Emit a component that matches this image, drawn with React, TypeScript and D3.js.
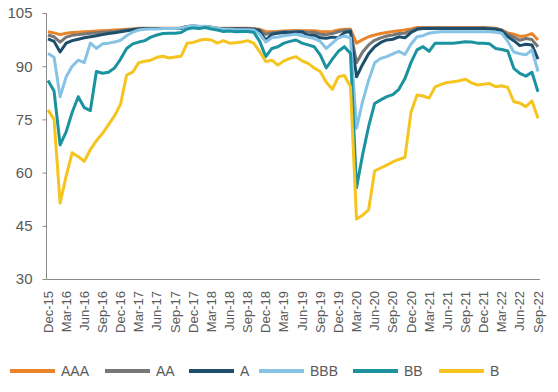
import * as d3 from "d3";
import React, { useEffect, useRef } from "react";

const width = 558;
const height = 392;

// monthly, Dec-15 .. Sep-22
const months = d3
  .timeMonth.range(new Date(2015, 11, 1), new Date(2022, 9, 1))
  .map(d3.timeFormat("%b-%y"));

const yTicks = [30, 45, 60, 75, 90, 105];

const aaa = [
  99.7, 99.4, 98.9, 99.3, 99.5, 99.6, 99.7, 99.8, 99.9, 100.0,
  100.1, 100.2, 100.3, 100.4, 100.5, 100.7, 100.7, 100.7, 100.7, 100.7,
  100.7, 100.7, 100.8, 101.2, 101.3, 101.2, 101.2, 101.0, 100.8, 100.7,
  100.7, 100.7, 100.7, 100.7, 100.6, 100.4, 99.8, 99.7, 99.8, 99.9,
  100.0, 100.0, 100.0, 100.0, 100.0, 99.8, 99.7, 99.8, 100.2, 100.4,
  100.4, 96.5, 97.5, 98.3, 98.8, 99.2, 99.5, 99.8, 100.0, 100.2,
  100.5, 100.9, 100.9, 100.9, 100.9, 100.9, 100.9, 100.9, 100.9, 100.9,
  100.9, 100.9, 100.9, 100.8, 100.7, 100.2, 99.4, 99.0, 98.4, 98.6,
  99.2, 97.4,
];

const aa = [
  98.8, 98.3, 96.8, 98.2, 98.7, 98.9, 99.1, 99.3, 99.4, 99.6,
  99.7, 99.8, 100.0, 100.2, 100.4, 100.5, 100.6, 100.6, 100.6, 100.6,
  100.6, 100.6, 100.7, 101.2, 101.3, 101.2, 101.2, 101.0, 100.7, 100.6,
  100.6, 100.6, 100.6, 100.6, 100.5, 100.2, 99.0, 99.4, 99.6, 99.8,
  99.8, 99.9, 99.8, 99.5, 99.6, 99.0, 98.9, 99.2, 99.7, 100.1,
  100.2, 91.0, 94.0, 96.0, 97.3, 98.0, 98.5, 98.8, 99.2, 99.3,
  100.0, 100.6, 100.8, 100.8, 100.8, 100.8, 100.8, 100.8, 100.8, 100.8,
  100.8, 100.8, 100.8, 100.7, 100.6, 100.2, 99.0, 98.2, 97.3, 97.8,
  97.5, 95.5,
];

const a = [
  97.7, 97.0, 94.0, 96.5, 97.2, 97.6, 98.0, 98.3, 98.6, 98.9,
  99.2, 99.4, 99.7, 100.0, 100.3, 100.5, 100.6, 100.6, 100.6, 100.6,
  100.6, 100.6, 100.7, 101.2, 101.3, 101.2, 101.2, 100.9, 100.6, 100.5,
  100.5, 100.5, 100.5, 100.5, 100.4, 100.0, 97.3, 99.0, 99.3, 99.5,
  99.4, 99.6, 99.7, 98.6, 98.8, 98.0, 97.9, 98.2, 98.0, 99.5,
  99.8, 87.0, 90.5, 93.5, 95.5, 96.7, 97.4, 97.6, 98.3, 98.0,
  99.5, 100.4, 100.6, 100.6, 100.6, 100.6, 100.6, 100.6, 100.6, 100.6,
  100.6, 100.6, 100.6, 100.5, 100.4, 100.0, 98.3, 97.2, 95.8, 96.2,
  96.0, 92.0,
];

const bbb = [
  93.6, 92.5, 81.4, 87.0, 90.0, 91.7, 91.0, 96.5, 95.0, 96.3,
  96.5, 96.8, 97.3, 98.6, 99.6, 100.2, 100.4, 100.5, 100.5, 100.6,
  100.6, 100.6, 100.8, 101.2, 101.4, 101.2, 101.3, 101.0, 100.7, 100.4,
  100.4, 100.3, 100.3, 100.3, 100.2, 99.0, 96.8, 98.0, 98.2, 98.6,
  98.8, 99.0, 98.6, 98.2, 97.8, 97.0, 95.0, 96.5, 98.0, 98.5,
  98.0, 72.5, 80.0, 86.0, 91.0, 92.2, 92.7, 93.5, 94.2, 93.3,
  96.2, 98.3, 98.6, 99.3, 99.6, 99.7, 99.7, 99.7, 99.7, 99.7,
  99.7, 99.7, 99.7, 99.7, 99.6, 99.3, 97.0, 94.0, 93.5, 93.2,
  94.6, 88.5,
];

const bb = [
  86.0, 83.0, 67.8, 71.5, 77.0, 81.4, 78.3, 77.5, 88.5, 88.0,
  88.3, 89.5, 92.0, 95.0, 96.3, 96.8, 97.2, 98.2, 98.8, 99.2,
  99.3, 99.3, 99.5, 100.5, 100.8, 100.6, 100.9, 100.5, 100.2, 99.8,
  99.9, 99.7, 99.8, 99.8, 99.6, 97.0, 92.7, 95.0, 95.5, 96.5,
  97.0, 97.4, 96.5, 96.0, 95.5, 93.2, 89.5, 92.0, 94.2, 95.5,
  93.6, 55.7, 65.0, 73.0, 79.5, 80.5, 81.4, 82.0, 83.5, 86.5,
  91.0, 94.6, 95.5, 94.2, 96.5, 96.5, 96.5, 96.5, 96.7, 96.9,
  96.8, 96.5, 96.5, 96.3, 95.0, 94.7, 94.3, 89.4, 88.0, 87.2,
  88.3, 82.8,
];

const b = [
  77.7, 75.0, 51.4, 59.0, 65.6, 64.5, 63.2, 66.5, 69.0, 71.0,
  73.5, 76.0, 79.3, 87.5, 88.3, 91.0, 91.4, 91.7, 92.5, 92.8,
  92.3, 92.6, 92.8, 96.5, 96.7, 97.3, 97.6, 97.4, 96.5, 97.2,
  96.5, 96.6, 96.8, 97.2, 96.5, 94.1, 91.3, 91.7, 90.3, 91.5,
  92.2, 92.7, 91.5, 90.8, 89.5, 88.5, 85.5, 83.5, 87.0, 87.4,
  84.2, 46.9, 48.0, 49.5, 60.5, 61.3, 62.1, 63.0, 63.7, 64.3,
  77.0, 81.9, 81.6, 81.0, 84.2, 84.9, 85.4, 85.6, 85.9, 86.3,
  85.3, 84.7, 84.9, 85.1, 84.2, 84.5, 84.0, 80.0, 79.6, 78.6,
  80.2, 75.3,
];

const seriesNames = ["AAA", "AA", "A", "BBB", "BB", "B"];
const seriesValues = [aaa, aa, a, bbb, bb, b];
const colors = ["#EA842B", "#777777", "#1D4E6C", "#86C3E4", "#1A92A0", "#F6C41F"];
// legend item left edges
const legendX = [10, 105, 189, 259, 353, 439];

const font = "'Liberation Sans', Arial, sans-serif";
const textColor = "#595959";
const axisColor = "#8a8a8a";

export default function App() {
  const holderRef = useRef<HTMLDivElement | null>(null);

  useEffect(() => {
    const holder = holderRef.current;
    if (!holder || holder.hasChildNodes()) return;

    const x = d3.scalePoint<string>().domain(months).range([48, 538]);
    const y = d3.scaleLinear().domain([30, 105]).range([279, 13]);

    const svg = d3
      .select(holder)
      .append("svg")
      .attr("width", width)
      .attr("height", height)
      .style("display", "block")
      .style("font-family", font);

    svg.append("rect").attr("width", width).attr("height", height).attr("fill", "white");

    // y axis
    const yAxis = svg
      .append("g")
      .attr("transform", "translate(46.5,0)")
      .call(d3.axisLeft(y).tickValues(yTicks).tickSize(4).tickPadding(10).tickFormat(d3.format("d")));
    yAxis.select(".domain").remove();
    yAxis.selectAll(".tick line").attr("stroke", axisColor);
    yAxis
      .selectAll(".tick text")
      .attr("fill", textColor)
      .style("font-size", "15px")
      .style("font-family", font);

    svg
      .append("line")
      .attr("x1", 46.5)
      .attr("x2", 46.5)
      .attr("y1", y(105))
      .attr("y2", y(30))
      .attr("stroke", axisColor);

    // x axis
    svg
      .append("line")
      .attr("x1", 46.5)
      .attr("x2", 540)
      .attr("y1", y(30) + 0.5)
      .attr("y2", y(30) + 0.5)
      .attr("stroke", axisColor);

    svg
      .append("g")
      .selectAll("text")
      .data(months.filter((_, i) => i % 3 === 0))
      .join("text")
      .attr("transform", (d) => `translate(${x(d)},${y(30) + 12}) rotate(-90)`)
      .attr("text-anchor", "end")
      .attr("dy", "0.35em")
      .attr("fill", textColor)
      .style("font-size", "13px")
      .text((d) => d);

    // lines
    const line = d3
      .line<number>()
      .x((_, i) => x(months[i]) as number)
      .y((d) => y(d));

    svg
      .append("g")
      .attr("fill", "none")
      .attr("stroke-width", 3)
      .attr("stroke-linejoin", "round")
      .selectAll("path")
      .data(seriesValues)
      .join("path")
      .attr("stroke", (_, i) => colors[i])
      .attr("d", (d) => line(d));

    // legend
    const legend = svg
      .append("g")
      .selectAll("g")
      .data(seriesNames)
      .join("g")
      .attr("transform", (_, i) => `translate(${legendX[i]},371)`);

    legend
      .append("line")
      .attr("x1", 0)
      .attr("x2", 45)
      .attr("stroke", (_, i) => colors[i])
      .attr("stroke-width", 4);

    legend
      .append("text")
      .attr("x", 51)
      .attr("dy", "0.35em")
      .attr("fill", textColor)
      .style("font-size", "14px")
      .text((d) => d);
  }, []);

  return <div ref={holderRef} style={{ position: "absolute", left: 0, top: 0 }} />;
}
